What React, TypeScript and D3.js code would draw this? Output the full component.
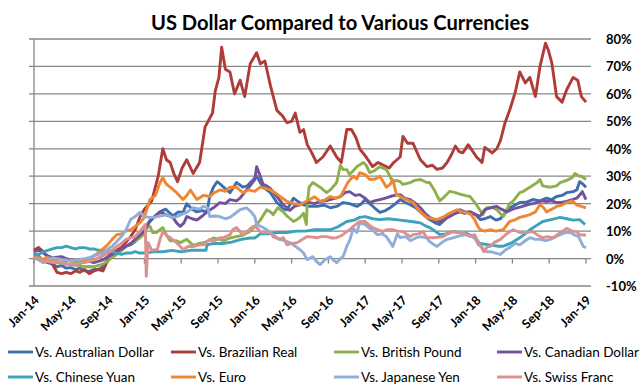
import React from "react";
import * as d3 from "d3";

// Month index since Jan 2014, value in %
const australianDollar: [number, number][] = [[0,0.7],[0.5,1],[1,-1],[1.5,-1.5],[2,-2],[2.5,-3],[3,-2.5],[3.5,-3.5],[4,-3.3],[4.5,-4],[5,-3.5],[5.5,-4.5],[6,-4.7],[6.5,-4],[7,-4],[7.5,-3],[8,-0.3],[8.5,1],[9,2],[9.5,3],[10,4.5],[10.5,5],[11,6.2],[11.5,8],[12,10],[12.5,13],[13,15],[13.7,17],[14.3,18],[15.1,15.5],[15.7,17],[16.2,16.8],[16.6,20],[17.2,18],[17.7,17],[18.2,17.5],[18.8,17],[19.1,22.6],[19.5,26],[19.9,28],[20.3,27],[20.6,26],[21.3,24],[22,27.7],[22.7,26],[23.2,26.5],[23.6,28],[24.2,30],[24.9,26],[25.7,24],[26.4,20.4],[26.7,19.6],[27.1,18],[27.5,17.8],[28.2,22],[28.6,21],[29.3,19.6],[30,19],[30.8,19],[31.5,19.5],[32.2,18.5],[32.9,19],[33.6,20.4],[34.3,20],[35.1,19],[35.6,20],[36,21.5],[36.5,20],[37,18.5],[37.6,16.8],[38.2,17.5],[38.7,18.5],[39.3,20],[39.8,21.5],[40.3,20.5],[40.9,19.6],[41.5,18.5],[42,17],[42.5,15.5],[43,14.2],[43.6,13],[44.1,12.4],[44.6,14],[45.2,16],[45.8,16.5],[46.3,17],[46.8,16.5],[47.4,17],[48,16],[48.5,14.2],[49,14.5],[49.6,15.3],[50.2,14],[50.7,14.5],[51.2,16.5],[51.7,18.5],[52.3,19.5],[52.8,20.4],[53.5,20.5],[54.2,21.5],[55,21],[55.7,22],[56.3,21.5],[56.8,22.6],[57.4,23],[57.9,24],[58.6,24.4],[59,25],[59.3,28],[59.7,27],[60,26]];

const brazilianReal: [number, number][] = [[0,3],[0.5,4],[1,2.5],[1.5,0.5],[2,-2],[2.5,-5],[3,-5.5],[3.5,-5],[4,-5.5],[4.5,-4.5],[5,-5],[5.5,-4],[6,-5.5],[6.5,-4.5],[7,-4],[7.5,-4.5],[7.9,-1.5],[8.3,2],[9,3],[9.5,4],[10,6],[10.5,8],[11,10.5],[11.5,15],[12,18],[12.8,21],[13.5,30],[14,40],[14.4,36],[14.8,35],[15.2,31],[15.6,28],[16.1,33],[16.6,36],[17.3,31],[18,35],[18.6,48],[19.4,53],[19.7,61],[20.1,66],[20.4,77],[20.8,69],[21.3,68],[21.8,60],[22.4,65],[22.9,59],[23.5,71],[24.2,75],[24.6,71],[25.1,72],[25.7,63],[26.4,54],[27,52],[27.5,49.5],[28,50],[28.4,53],[28.9,46],[29.3,47],[29.7,41.5],[30.2,38.5],[30.7,35],[31.4,37],[32.2,41],[32.9,37],[33.4,35],[34,47],[34.5,47],[35,44],[35.4,40],[36.1,37],[36.8,33.5],[37.4,35],[38,34],[38.6,33],[39.1,35],[39.8,37],[40.1,44.5],[40.6,42],[41.2,42],[42,36],[42.7,33.5],[43.3,34],[43.8,32.5],[44.4,33],[44.9,35],[45.4,38],[45.8,41],[46.2,39],[46.6,38.5],[47.2,41.5],[48.1,37],[48.7,35],[49,40.5],[49.8,38.5],[50.3,40],[50.7,43],[51.2,49.5],[51.7,54],[52.3,60.5],[52.8,68],[53.4,64],[53.9,66],[54.5,59],[55,70],[55.6,78.5],[55.9,76],[56.3,71],[56.8,59],[57.4,57],[57.9,61.5],[58.6,66],[59.1,65],[59.5,59],[60,57]];

const britishPound: [number, number][] = [[0,0.7],[0.5,0.5],[1,-0.5],[1.5,-0.5],[2,-1],[2.5,-1.5],[3,-1.8],[3.5,-2],[4,-2.2],[4.5,-2.5],[5,-2.5],[5.5,-3],[6,-2.9],[6.5,-3],[7,-2.5],[7.5,-2],[8,-1],[8.5,0.5],[9,1.5],[9.5,3],[10,4.5],[10.5,5.5],[11,6.5],[11.5,7.5],[12,9],[12.4,12],[12.6,11.7],[12.9,9.5],[13.3,9.5],[14,11.3],[14.5,8],[14.8,6.5],[15.5,6.5],[15.9,5.8],[16.6,7],[17.3,4.8],[18,5.5],[18.4,5.8],[18.8,6.2],[19.5,7.5],[20.2,7],[20.6,6.5],[21.3,7.5],[22,8],[22.7,8.5],[23.5,10],[24,11.7],[24.6,14],[25.3,17.8],[25.7,17],[26,16],[26.5,18.5],[27.1,17],[27.5,15.5],[28.2,13.5],[28.6,14.2],[28.9,15],[29.3,16.5],[29.6,12.4],[29.7,20],[29.9,26],[30.3,27.7],[31.1,26],[31.8,24],[32.2,25],[32.6,26.5],[32.9,27.7],[33.3,34],[33.6,32.4],[34,32.4],[34.3,30.6],[34.7,32],[35.1,33.5],[35.8,35],[36.1,34],[36.5,31.3],[37,32],[37.6,33.5],[38.3,32.4],[38.7,30],[39,27.7],[39.4,28.5],[39.8,28],[40.1,27],[40.9,27.7],[41.4,28.5],[42,28.8],[42.7,27.7],[43,27.7],[43.5,25],[44.1,21],[44.6,22.5],[45.2,24.5],[45.8,24],[46.3,23.5],[46.8,23],[47.4,22.6],[47.9,20.5],[48.5,17.5],[48.8,16],[49.2,18.5],[49.9,18.5],[50.3,17.8],[51,15.3],[51.7,20],[52.1,21],[52.8,24],[53.2,24.5],[53.9,26],[54.7,27.7],[55,28.8],[55.3,26.5],[56.1,26],[56.8,26.5],[57.2,27.7],[57.9,28.5],[58.5,29.5],[58.8,31],[59.3,30],[59.5,30],[60,28.8]];

const canadianDollar: [number, number][] = [[0,2.5],[0.5,3],[1,2],[1.5,1],[2,0.3],[2.5,0.5],[3,0.7],[3.5,0],[4,-0.4],[4.5,-1],[5,-1.5],[5.5,-1.2],[6,-1],[6.5,-1.5],[7,-1],[7.5,-0.5],[8,0.7],[8.5,1.5],[9,2.5],[9.5,3.5],[10,4.5],[10.5,5.5],[11,7],[11.5,8.5],[12,10],[12.5,13.5],[13,15],[13.7,17],[14.3,16],[15.1,15],[15.5,13],[15.9,11.7],[16.3,13],[16.6,15.3],[17.2,14.5],[17.7,14],[18.3,15.5],[18.8,17],[19.5,18.5],[20.2,20.4],[20.8,20],[21.3,21.5],[22,21],[22.4,22],[23.1,25],[23.6,27],[24,28.8],[24.2,33.5],[24.6,30],[24.9,27],[25.3,26.5],[25.7,25.5],[26.4,22.6],[27.1,19.6],[27.8,17.5],[28.3,19],[28.9,19.6],[29.5,20.5],[30,20.4],[30.5,20],[31.1,20.8],[31.7,21],[32.2,21.5],[32.8,22],[33.3,22.6],[33.8,24],[34.3,24.4],[34.9,23],[35.4,23.3],[36,22],[36.5,20.4],[37,21],[37.6,21.5],[38.2,22],[38.7,22.6],[39.2,23],[39.8,23.3],[40.3,22],[40.9,21.5],[41.5,20],[42,18.5],[42.5,16.5],[43,15],[43.6,14],[44.1,13.5],[44.7,14.5],[45.2,15.3],[45.8,16.5],[46.3,17.8],[46.8,17],[47.4,17],[48,16],[48.5,15.5],[49,17.8],[49.6,18.5],[50.3,19],[50.8,18],[51.4,17],[52,18],[52.5,18.5],[53.1,19],[53.6,19.6],[54.2,20],[54.7,20.4],[55.2,21],[55.7,20.8],[56.3,21],[56.8,20.4],[57.4,20.5],[57.9,20.8],[58.5,21.5],[59,22],[59.4,23.5],[59.6,24.4],[60,21.5]];

const chineseYuan: [number, number][] = [[0,1.5],[0.5,1.5],[1,2.5],[1.5,3],[2,3.5],[2.5,4],[3,4],[3.5,4.5],[4,4],[4.5,3.5],[5,4],[5.5,4],[6,3.5],[6.5,3.5],[7,3],[7.5,3],[8,2.5],[8.5,2.5],[9,2],[9.5,1.5],[10,2],[10.5,2],[11,2.5],[11.5,2],[12,2],[13,2.5],[14,2.5],[15,3],[16,2.5],[17,3],[18,3],[18.7,3],[18.8,5],[19.5,5.5],[20.5,5.5],[21.5,6],[22.5,7],[23.5,7.5],[24,7.5],[24.6,9],[25.5,9],[26.5,9.5],[27.5,9.5],[28.5,10],[29.5,10],[30.5,10.5],[31.5,10.5],[32.2,10.5],[33,11.5],[34,13.5],[34.8,14],[35.4,15],[36,15.3],[36.8,14.5],[37.6,14.2],[38.5,14.5],[39.8,14],[41,13.5],[42,13],[42.5,12],[43,11.3],[43.6,10],[44.1,8.7],[44.8,9],[45.5,9.8],[46.3,9.5],[47,9.2],[47.7,8],[48.5,5.5],[49.5,5],[50.5,4.5],[51,4.5],[51.8,5.5],[52.8,7.6],[53.4,9],[53.9,10.5],[54.6,12],[55.3,13.5],[56.2,14.2],[57.2,15],[57.9,14.5],[58.6,14],[59.3,14.2],[59.9,12.4]];

const euro: [number, number][] = [[0,0.7],[0.5,0],[1,-0.3],[1.5,0.5],[2,-0.5],[2.5,-1],[3,-1.5],[3.5,-1],[4,-0.5],[4.5,-1.5],[5,-1],[5.5,-0.5],[6,-0.3],[6.5,1],[7,2],[7.5,3.5],[8,5],[8.5,7],[9,8.7],[9.5,9],[10,10],[10.5,10.5],[11,11.7],[11.5,13],[12,15],[12.6,21.5],[13.2,23],[13.7,27.7],[14,29.5],[14.4,27],[14.8,26],[15.5,24],[16.2,21.5],[16.6,23],[17,25],[17.7,21.5],[18.4,23],[19.1,22.6],[19.6,24],[20.2,25],[20.8,24.5],[21.3,26],[22,26],[22.7,24],[23.3,25],[24,24.5],[24.6,26],[25.2,25.5],[25.7,25],[26.2,24],[26.7,22.7],[27.5,20.8],[28.2,20],[28.9,19.6],[29.4,20.5],[30,21.5],[30.5,22.5],[31.1,20.8],[31.7,21.5],[32.2,22.6],[32.8,22],[33.3,22.6],[33.7,25],[34.1,27.7],[34.7,30],[35.1,29],[35.4,31.3],[36,30.6],[36.5,28.8],[37.1,29],[37.6,30],[38.3,26],[38.7,27],[39,28.8],[39.4,23.3],[39.8,22.6],[40.5,21.5],[41.2,20.4],[42,17],[42.7,15],[43.3,14.5],[43.8,14.2],[44.4,15],[44.9,16],[45.5,17],[46,17.8],[46.5,17],[47,16.8],[47.5,16],[47.9,14.2],[48.2,12],[48.5,10.5],[49,10],[49.6,10.5],[50.2,10],[51,10.5],[51.7,13.5],[52.2,14],[52.8,15],[53.4,15.5],[53.9,16],[54.5,17],[55,19.7],[55.4,18.5],[55.7,17],[56.3,18],[56.8,19],[57.4,19.5],[57.9,20.4],[58.5,21],[59,19.6],[59.5,19],[60,18.5]];

const japaneseYen: [number, number][] = [[0,0.3],[0.5,-0.5],[1,-1.5],[1.5,-0.5],[2,0.3],[2.5,0],[3,-0.3],[3.5,-0.5],[4,-1],[4.5,-0.5],[5,-0.3],[5.5,0],[6,0.3],[6.5,1],[7,1.5],[7.5,2],[8,3.3],[8.5,4.5],[9,6.2],[9.5,8],[10,10.5],[10.5,14.2],[11,15.3],[11.5,16.8],[12,15.3],[12.5,15],[13,15],[13.7,15.5],[14.5,16],[15,15],[15.5,15.3],[16,16],[16.6,16.8],[17.3,18.5],[18,18],[18.4,19],[18.9,18.5],[19.1,15.3],[19.7,15.5],[20.2,15.3],[20.8,14.5],[21.3,15],[21.9,16.5],[22.4,17.8],[23.1,18.5],[23.6,17],[24,15.3],[24.2,12.4],[24.8,11.5],[25.3,10.5],[26,8.5],[26.7,7],[27.2,6.5],[27.8,5.8],[28.4,4.5],[28.9,3.3],[29.3,2],[29.7,-0.4],[30.3,0.7],[30.7,-1],[31.1,-2.2],[31.6,-0.5],[32.2,0.7],[32.5,-0.5],[32.9,-1.5],[33.3,0],[33.6,0.7],[34,4.5],[34.3,6.5],[34.7,11],[35.1,9.5],[35.4,13],[36,12.4],[36.5,11],[36.8,10.5],[37.3,8.7],[37.8,9],[38.3,8],[38.7,6],[39,4.4],[39.5,9],[39.8,7.6],[40.4,8],[40.9,6.5],[41.5,7.5],[42,8],[42.7,7.5],[43,6.2],[43.5,5],[43.8,4.4],[44.4,6],[44.9,7],[45.5,7.5],[46,8],[46.5,8.5],[47,8.7],[47.5,8],[47.9,7.6],[48.3,5],[48.6,4.4],[49.2,2.5],[49.6,2.5],[50.2,2],[50.7,1.5],[51.2,3],[51.7,4],[52.3,5.5],[52.8,5],[53.4,6.5],[53.9,7.6],[54.5,7],[55,7],[55.6,6.5],[56.1,7],[56.7,8],[57.2,8.7],[57.8,9.5],[58.3,9.5],[58.8,8.5],[59.2,8],[59.7,4.4],[60,4]];

const swissFranc: [number, number][] = [[0,0.3],[0.5,0],[1,-1],[1.5,-1],[2,-1.5],[2.5,-1.2],[3,-1.5],[3.5,-2],[4,-2.2],[4.5,-2],[5,-1.5],[5.5,-1.5],[6,-1],[6.5,-0.5],[7,0.3],[7.5,1],[8,2],[8.5,3],[9,4.4],[9.5,5.5],[10,7],[10.5,7.5],[11,8],[11.5,10],[11.9,11.5],[12.1,12.4],[12.2,-6.5],[12.4,5.8],[12.8,3],[13.4,3.3],[13.7,7],[14,9.8],[14.4,8.5],[14.8,7.6],[15.5,5.8],[15.9,4.4],[16.2,3.3],[16.8,4.5],[17.3,4.4],[18,5],[18.4,5],[19.1,7],[19.5,6.2],[20.2,7.6],[20.6,7.6],[21.3,8.7],[21.6,10.5],[22,11.3],[22.7,8.7],[23.2,10],[23.8,11.7],[24.2,11.3],[24.6,9.8],[24.9,9.5],[25.7,9.5],[26,8],[26.7,7],[27.1,7.6],[27.5,5],[28,5.5],[28.6,5.8],[29.2,7],[29.7,8],[30.3,7.8],[30.8,7.6],[31.3,8],[31.8,8],[32.4,7.5],[32.9,7.6],[33.5,8.5],[34,9.8],[34.3,10.5],[34.8,12],[35.4,13.5],[36,13.5],[36.5,12],[36.8,11.3],[37.4,10.5],[37.9,9.8],[38.3,10.5],[39,10.5],[39.5,10],[40.1,9.8],[40.9,8],[41.2,8.7],[41.8,9],[42.3,9.8],[42.7,7.6],[43.4,7.6],[44.1,7.8],[44.5,8],[45,9],[45.5,9.8],[46,9.5],[46.6,9.5],[47.4,8],[47.9,8.7],[48.3,6],[48.9,2.5],[49.3,4.4],[49.6,4.4],[50,5.8],[50.7,7],[51.2,8.5],[51.7,9.8],[52.1,10.5],[52.8,9.5],[53.6,9.5],[54.2,9.8],[55,8],[55.3,7.6],[55.8,8],[56.4,7.5],[57,9],[57.5,10],[57.9,11],[58.5,10],[59,9.8],[59.3,8.7],[60,8.5]];

const seriesNames = ["Vs. Australian Dollar","Vs. Brazilian Real","Vs. British Pound","Vs. Canadian Dollar","Vs. Chinese Yuan","Vs. Euro","Vs. Japanese Yen","Vs. Swiss Franc"];
const seriesData = [australianDollar, brazilianReal, britishPound, canadianDollar, chineseYuan, euro, japaneseYen, swissFranc];
const seriesColors = ["#3F6EAF","#B03C39","#8DB04C","#72539B","#3CA3BA","#EF8631","#90AEDA","#DA918F"];

const xTickLabels = ["Jan-14","May-14","Sep-14","Jan-15","May-15","Sep-15","Jan-16","May-16","Sep-16","Jan-17","May-17","Sep-17","Jan-18","May-18","Sep-18","Jan-19"];
const yTicks = [-10, 0, 10, 20, 30, 40, 50, 60, 70, 80];

const W = 643, H = 390;
const FONT = "Lato, 'Open Sans', sans-serif";

export default function App() {
  const x = d3.scaleLinear().domain([0, 60]).range([34, 586]);
  const y = d3.scaleLinear().domain([-10, 80]).range([286, 39]);
  const line = d3.line<[number, number]>().x(d => x(d[0])).y(d => y(d[1]));
  const grid = "#878787";
  return (
    <svg width={W} height={H} style={{ position: "absolute", left: 0, top: 0, background: "#fff" }} fontFamily={FONT}>
      <text x={340} y={30} textAnchor="middle" fontSize={21} fontWeight="bold" textLength={378} lengthAdjust="spacingAndGlyphs">US Dollar Compared to Various Currencies</text>
      {yTicks.map(t => (
        <g key={t}>
          <line x1={29} x2={591} y1={y(t)} y2={y(t)} stroke={grid} strokeWidth={1.3} />
          <text x={606} y={y(t) + 5} fontSize={13} fontWeight="bold">{t + "%"}</text>
        </g>
      ))}
      <line x1={x(0)} x2={x(0)} y1={y(80)} y2={y(-10)} stroke={grid} strokeWidth={1.3} />
      {xTickLabels.map((lab, i) => {
        const xx = x(i * 4);
        return (
          <g key={lab}>
            <line x1={xx} x2={xx} y1={y(0)} y2={y(0) + 5} stroke={grid} strokeWidth={1.3} />
            <text transform={`translate(${xx + 6},${y(-10) + 15}) rotate(-45)`} textAnchor="end" fontSize={12.5} fontWeight="bold">{lab}</text>
          </g>
        );
      })}
      {seriesData.map((d, i) => (
        <path key={i} d={line(d) || ""} fill="none" stroke={seriesColors[i]} strokeWidth={2.9} strokeLinejoin="round" />
      ))}
      {seriesNames.map((n, i) => {
        const col = i % 4, row = Math.floor(i / 4);
        const lx = 8 + col * 163, ly = 352 + row * 25;
        return (
          <g key={n}>
            <line x1={lx} x2={lx + 25} y1={ly} y2={ly} stroke={seriesColors[i]} strokeWidth={2.9} />
            <text x={lx + 27} y={ly + 5} fontSize={13.5}>{n}</text>
          </g>
        );
      })}
    </svg>
  );
}
